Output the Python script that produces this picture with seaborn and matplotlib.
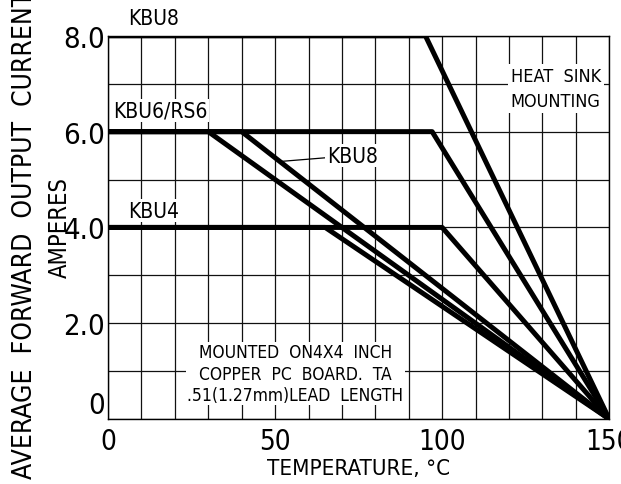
import matplotlib
matplotlib.use("Agg")
import matplotlib.pyplot as plt
import seaborn as sns
import pandas as pd
import numpy as np

# ---- data ----
curve_names = ["KBU8 heat sink", "KBU6 heat sink", "KBU4 heat sink",
               "KBU8 PC board", "KBU6 PC board", "KBU4 PC board"]
rated_current = [8.0, 6.0, 4.0, 6.0, 6.0, 4.0]      # amperes
knee_temp = [95, 97, 100, 40, 30, 65]                # deg C where derating starts
t_start = 0
t_max = 150

x_ticks = [0, 50, 100, 150]
y_ticks = [0, 2, 4, 6, 8]
y_tick_labels = ["0", "2.0", "4.0", "6.0", "8.0"]

rows = []
for name, cur, knee in zip(curve_names, rated_current, knee_temp):
    rows.append((name, t_start, cur))
    rows.append((name, knee, cur))
    rows.append((name, t_max, 0.0))
df = pd.DataFrame(rows, columns=["curve", "temp", "current"])

sns.set_theme(style="white")
plt.rcParams["font.family"] = ["DejaVu Sans"]
plt.rcParams["font.stretch"] = "condensed"
plt.rcParams["text.color"] = "black"
plt.rcParams["axes.labelcolor"] = "black"

fig = plt.figure(figsize=(6.21, 4.85), dpi=100)
ax = fig.add_axes([0.174, 0.134, 0.807, 0.790])

sns.lineplot(data=df, x="temp", y="current", units="curve", estimator=None,
             sort=False, color="black", linewidth=3.6, ax=ax, legend=False,
             zorder=3)

ax.set_xlim(0, 150)
ax.set_ylim(0, 8)
ax.set_xticks(x_ticks)
ax.set_xticks(np.arange(0, 151, 10), minor=True)
ax.set_yticks(y_ticks)
ax.set_yticklabels(y_tick_labels)
ax.set_yticks(np.arange(0, 8.01, 1), minor=True)
ax.grid(which="both", color="#111111", linewidth=0.9)
ax.tick_params(which="both", length=0, labelsize=21, colors="black")
ax.tick_params(axis="x", pad=6, labelsize=20)
ax.tick_params(axis="y", pad=2)
ax.get_yticklabels()[0].set_verticalalignment("bottom")
for s in ax.spines.values():
    s.set_color("black")
    s.set_linewidth(1.0)

ax.set_xlabel("TEMPERATURE, °C", fontsize=16, color="black", labelpad=2)
ax.set_ylabel("")
fig.text(0.097, 0.53, "AMPERES", rotation=90, fontsize=17,
         ha="center", va="center", color="black")
fig.text(0.04, 0.515, "AVERAGE  FORWARD  OUTPUT  CURRENT", rotation=90,
         fontsize=19, ha="center", va="center", color="black")
fig.text(0.565, 1.015, "OUTPUT  RECTIFIED  CURRENT", fontsize=16,
         ha="center", va="center", color="black")

ax.text(6, 8.38, "KBU8", fontsize=15, va="center", ha="left", clip_on=False)
ax.text(1.5, 6.45, "KBU6/RS6", fontsize=15, va="center", ha="left",
        bbox=dict(facecolor="white", edgecolor="none", pad=1))
ax.text(6, 4.35, "KBU4", fontsize=15, va="center", ha="left",
        bbox=dict(facecolor="white", edgecolor="none", pad=1))
ax.annotate("KBU8", xy=(52, 5.38), xytext=(65.5, 5.5), fontsize=15,
            va="center", ha="left",
            bbox=dict(facecolor="white", edgecolor="none", pad=1),
            arrowprops=dict(arrowstyle="-", color="black", lw=0.9,
                            shrinkA=0, shrinkB=0), zorder=4)
ax.text(134, 6.9, "HEAT  SINK\nMOUNTING", fontsize=13, ha="center",
        va="center", linespacing=1.5,
        bbox=dict(facecolor="white", edgecolor="none", pad=2), zorder=4)
ax.text(56, 0.95, "MOUNTED  ON4X4  INCH\nCOPPER  PC  BOARD.  TA\n.51(1.27mm)LEAD  LENGTH",
        fontsize=12.5, ha="center", va="center", linespacing=1.25,
        bbox=dict(facecolor="white", edgecolor="none", pad=1), zorder=4)

fig.savefig("out.png", dpi=100)
